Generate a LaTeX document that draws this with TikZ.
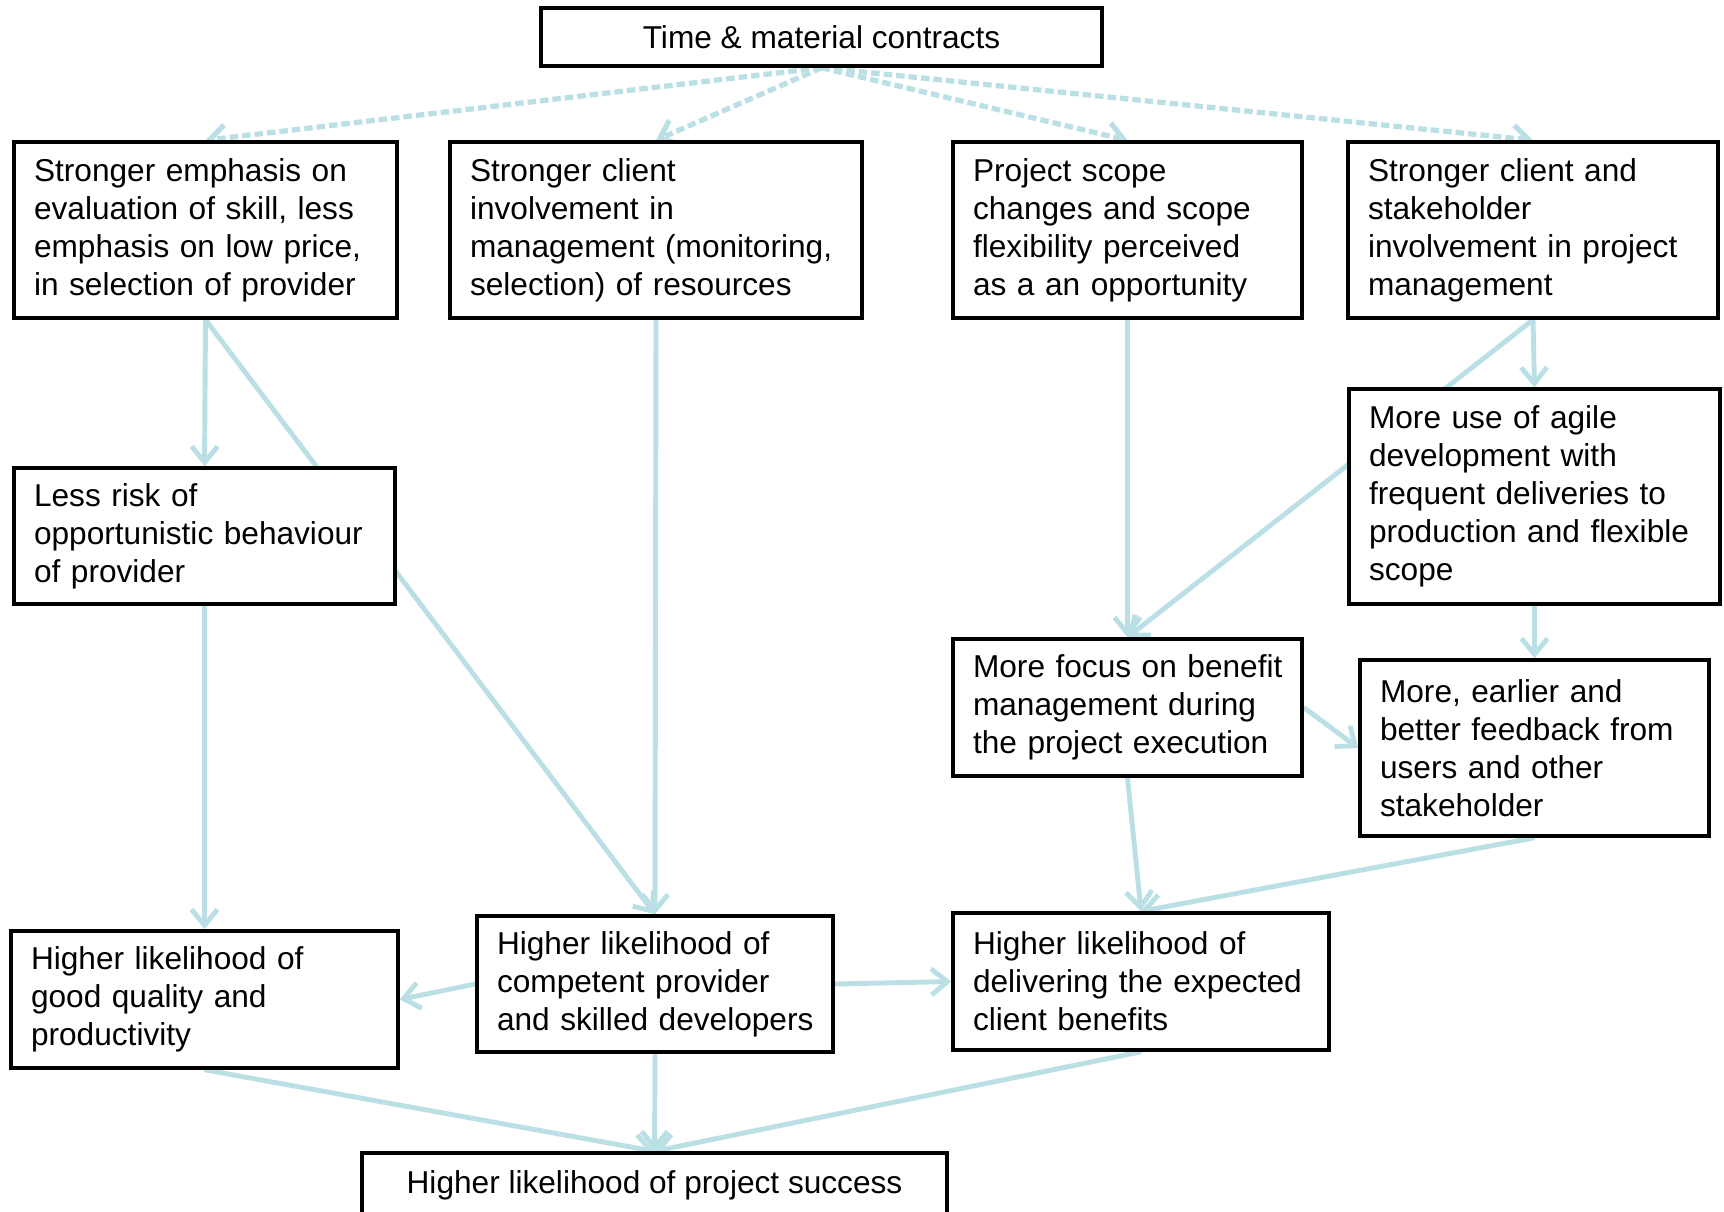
\documentclass[tikz,border=0pt]{standalone}
\usepackage{fontspec}
\setmainfont{Liberation Sans}
\usepackage{xcolor}
\usetikzlibrary{arrows.meta, calc, positioning, backgrounds}
\definecolor{linkblue}{RGB}{186,224,230}
\hyphenpenalty=10000
\exhyphenpenalty=10000

\tikzset{
  box/.style={draw, line width=2pt, fill=white, inner xsep=0.4cm, inner ysep=0pt,
    align=left, text width=#1, font=\fontsize{18}{21.6}\selectfont},
  cbox/.style={draw, line width=2pt, fill=white, inner sep=0pt, align=center,
    minimum width=#1, font=\fontsize{18}{21.6}\selectfont},
  link/.style={draw=linkblue, line width=2.8pt, -{Straight Barb[length=0.32cm,width=0.52cm]}},
  dlink/.style={link, line width=3pt, dash pattern=on 0.17cm off 0.08cm}
}

\begin{document}
\begin{tikzpicture}[x=0.02cm, y=-0.02cm]
\useasboundingbox (0,0) rectangle (1724,1211);
\clip (0,0) rectangle (1724,1211);

% Contract type
\node[cbox=11.22cm, minimum height=1.16cm] (tm) at (821.5,37) {Time \& material contracts};

% First row of effects
\node[box=6.86cm, minimum height=3.52cm] (skill) at (205.5,230) {Stronger emphasis on\\evaluation of skill, less\\emphasis on low price,\\in selection of provider};
\node[box=7.44cm, minimum height=3.52cm] (client) at (656,230) {Stronger client\\involvement in\\management (monitoring,\\selection) of resources};
\node[box=6.18cm, minimum height=3.52cm] (scope) at (1127.5,230) {Project scope\\changes and scope\\flexibility perceived\\as a an opportunity};
\node[box=6.60cm, minimum height=3.52cm] (stake) at (1533,230) {Stronger client and\\stakeholder\\involvement in project\\management};

% Middle boxes
\node[box=6.82cm, minimum height=2.72cm] (risk) at (204.5,536) {Less risk of\\opportunistic behaviour\\of provider};
\node[box=6.62cm, minimum height=4.30cm] (agile) at (1534.5,496.5) {More use of agile\\development with\\frequent deliveries to\\production and flexible\\scope};
\node[box=6.18cm, minimum height=2.74cm] (benefit) at (1127.5,707.5) {\mbox{More focus on benefit}\\management during\\\mbox{the project execution}};
\node[box=6.18cm, minimum height=3.52cm] (feedback) at (1534.5,748) {More, earlier and\\better feedback from\\users and other\\stakeholder};

% Likelihoods
\node[box=6.94cm, minimum height=2.74cm] (quality) at (204.5,999.5) {Higher likelihood of\\good quality and\\productivity};
\node[box=6.32cm, minimum height=2.72cm] (competent) at (655,984) {Higher likelihood of\\competent provider\\\mbox{and skilled developers}};
\node[box=6.72cm, minimum height=2.74cm] (deliver) at (1141,981.5) {Higher likelihood of\\\mbox{delivering the expected}\\client benefits};
\node[cbox=11.70cm, minimum height=1.30cm] (success) at (654.5,1185.5) {Higher likelihood of project success};

% Connectors
\begin{pgfonlayer}{background}
\foreach \t in {skill, client, scope, stake}
  \draw[dlink] (tm.south) -- (\t.north);
\draw[link] (skill.south) -- (risk.north);
\draw[link] (skill.south) -- (competent.north);
\draw[link] (client.south) -- (competent.north);
\draw[link] (scope.south) -- (benefit.north);
\draw[link] (stake.south) -- (agile.north);
\draw[link] (stake.south) -- (benefit.north);
\draw[link] (agile.south) -- (feedback.north);
\draw[link] (benefit.east) -- (feedback.west);
\draw[link] (risk.south) -- (quality.north);
\draw[link] (competent.west) -- (quality.east);
\draw[link] (competent.east) -- (deliver.west);
\draw[link] (benefit.south) -- (deliver.north);
\draw[link] (feedback.south) -- (deliver.north);
\draw[link] (quality.south) -- (success.north);
\draw[link] (competent.south) -- (success.north);
\draw[link] (deliver.south) -- (success.north);
\end{pgfonlayer}
\end{tikzpicture}
\end{document}
